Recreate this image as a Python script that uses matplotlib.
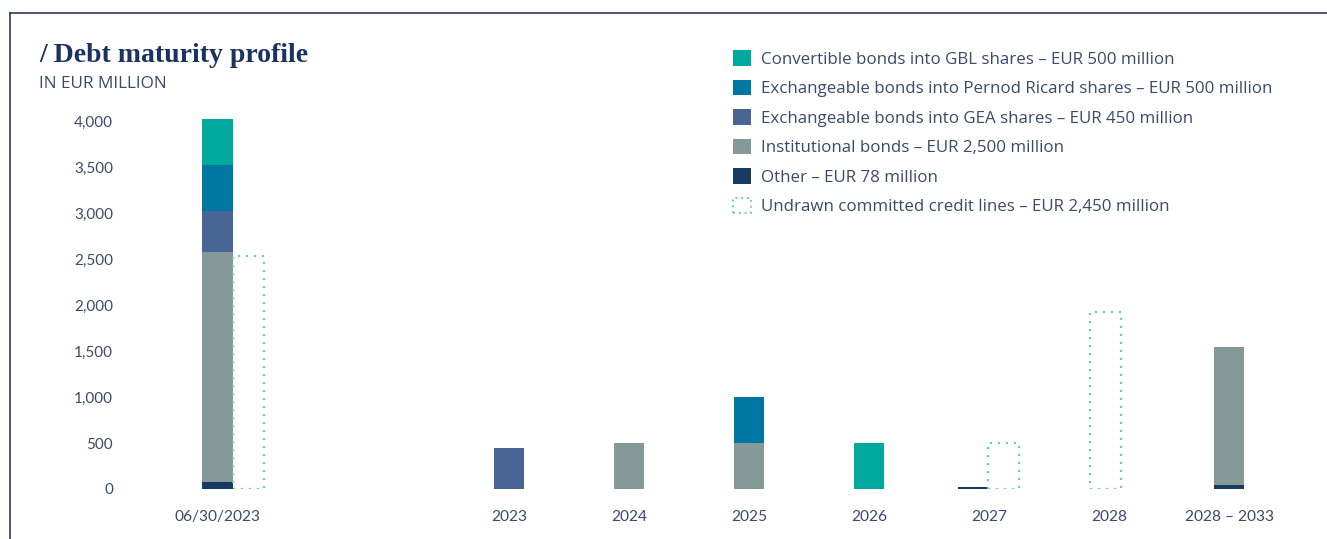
import matplotlib
matplotlib.use("Agg")
import matplotlib.pyplot as plt
from matplotlib.patches import Patch
from matplotlib.lines import Line2D

# categories and values (EUR million)
categories = ["06/30/2023", "2023", "2024", "2025", "2026", "2027", "2028", "2028 \u2013 2033"]
gbl = [500, 0, 0, 0, 500, 0, 0, 0]
pernod = [500, 0, 0, 500, 0, 0, 0, 0]
gea = [450, 450, 0, 0, 0, 0, 0, 0]
institutional = [2500, 0, 500, 500, 0, 0, 0, 1500]
other = [78, 0, 5, 5, 0, 22, 0, 48]
undrawn = [2530, 0, 0, 0, 0, 500, 1930, 0]

legend_labels = [
    "Convertible bonds into GBL shares \u2013 EUR 500 million",
    "Exchangeable bonds into Pernod Ricard shares \u2013 EUR 500 million",
    "Exchangeable bonds into GEA shares \u2013 EUR 450 million",
    "Institutional bonds \u2013 EUR 2,500 million",
    "Other \u2013 EUR 78 million",
    "Undrawn committed credit lines \u2013 EUR 2,450 million",
]
yticks = [0, 500, 1000, 1500, 2000, 2500, 3000, 3500, 4000]

# layout
cat_x = [-2.43, 0, 1, 2, 3, 4, 5, 6]
debt_off = [0, 0, 0, 0, 0, -0.13, 0, 0]
undrawn_off = [0.26, 0, 0, 0, 0, 0.12, -0.03, 0]
width = 0.258

c_gbl = "#00a99d"
c_pernod = "#0077a3"
c_gea = "#486596"
c_inst = "#869999"
c_other = "#163a62"
c_undrawn = "#6dd0b5"
c_text = "#3b4a6b"
c_title = "#1b3360"

W, H = 1327, 539
fig = plt.figure(figsize=(W / 100, H / 100), dpi=100)
ax = fig.add_axes([113 / W, (H - 489) / H, 1188 / W, 4400 * 0.0919 / H])
ax.set_xlim(-3.3, 6.6)
ax.set_ylim(0, 4400)

dx = [c + o for c, o in zip(cat_x, debt_off)]
bottom = [0] * len(categories)
for vals, col in [(other, c_other), (institutional, c_inst), (gea, c_gea),
                  (pernod, c_pernod), (gbl, c_gbl)]:
    ax.bar(dx, vals, width, bottom=bottom, color=col, linewidth=0)
    bottom = [b + v for b, v in zip(bottom, vals)]

ux = [c + o for c, o in zip(cat_x, undrawn_off)]
for x, v in zip(ux, undrawn):
    if v > 0:
        ax.bar(x, v, width, facecolor="none", edgecolor=c_undrawn,
               linewidth=1.6, linestyle=(0, (1, 2.6)))

for s in ax.spines.values():
    s.set_visible(False)
ax.set_yticks(yticks)
ax.set_yticklabels([f"{v:,}" for v in yticks])
ax.set_xticks(cat_x)
ax.set_xticklabels(categories)
ax.tick_params(axis="y", length=0, pad=0, labelsize=11, labelcolor=c_text)
ax.tick_params(axis="x", length=0, pad=15, labelsize=11.2, labelcolor=c_text)
for lab in ax.get_xticklabels() + ax.get_yticklabels():
    lab.set_fontfamily("Lato")

# title block
fig.text(39 / W, 1 - 62 / H, "/ Debt maturity profile", fontsize=20,
         fontweight="bold", family="Liberation Serif", color=c_title)
fig.text(39 / W, 1 - 88 / H, "IN EUR MILLION", fontsize=12.3,
         family="Open Sans", color=c_text)

# legend
handles = [Patch(facecolor=c, edgecolor="none") for c in
           [c_gbl, c_pernod, c_gea, c_inst, c_other]]
handles.append(Patch(facecolor="none", edgecolor=c_undrawn, linewidth=1.4,
                     linestyle=(0, (1, 2))))
fig.legend(handles, legend_labels, loc="upper left",
           bbox_to_anchor=(733 / W, 1 - 50 / H), frameon=False,
           prop={"family": "Open Sans", "size": 12.2}, labelcolor=c_text,
           handlelength=1.05, handleheight=1.05, handletextpad=0.6,
           labelspacing=0.7, borderpad=0, borderaxespad=0)

# frame lines
fig.add_artist(Line2D([10 / W, 1], [1 - 13 / H, 1 - 13 / H], color="#2d3b55",
                      linewidth=1.2, transform=fig.transFigure))
fig.add_artist(Line2D([10 / W, 10 / W], [1 - 13 / H, 0], color="#2d3b55",
                      linewidth=1.2, transform=fig.transFigure))

fig.savefig("out.png", dpi=100)
